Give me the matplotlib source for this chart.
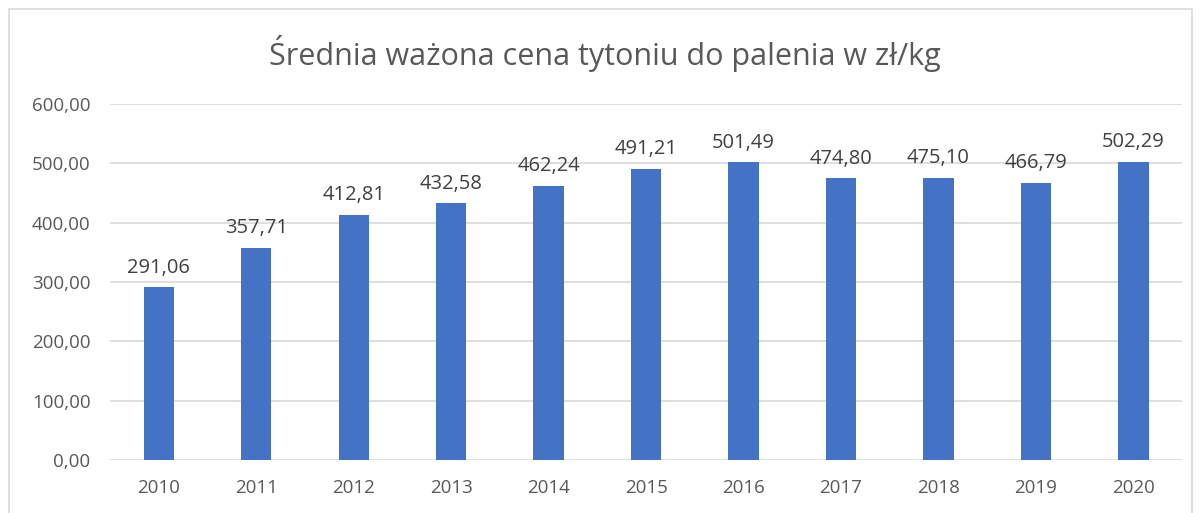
import numpy as np
import matplotlib.pyplot as plt
from matplotlib.patches import Rectangle

years = ["2010", "2011", "2012", "2013", "2014", "2015", "2016", "2017", "2018", "2019", "2020"]
prices = [291.06, 357.71, 412.81, 432.58, 462.24, 491.21, 501.49, 474.80, 475.10, 466.79, 502.29]
title = "Średnia ważona cena tytoniu do palenia w zł/kg"

plt.rcParams['font.family'] = ['Open Sans', 'DejaVu Sans']
gray = "#595959"

fig = plt.figure(figsize=(12.02, 5.13), dpi=100)
fig.patches.append(Rectangle((9 / 1202, -0.01), 1183 / 1202, 1 - 9 / 513 + 0.01,
                             transform=fig.transFigure, fill=False,
                             edgecolor="#d9d9d9", linewidth=1.2))

ax = fig.add_axes([0.0915, 0.1033, 0.892, 0.694])
x = np.arange(len(years))
ax.bar(x, prices, width=0.31, color="#4472c4", zorder=3)

for xi, v in zip(x, prices):
    ax.annotate(f"{v:.2f}".replace(".", ","), (xi, v), xytext=(0, 7),
                textcoords="offset points", ha="center", va="bottom",
                fontsize=14.5, color="#404040")

ax.set_xlim(-0.5, len(years) - 0.5)
ax.set_ylim(0, 600)
ax.set_yticks(np.arange(0, 601, 100))
ax.set_yticklabels([f"{t:.2f}".replace(".", ",") for t in np.arange(0, 601, 100)])
ax.set_xticks(x)
ax.set_xticklabels(years)
ax.grid(axis="y", color="#d9d9d9", linewidth=1.2, zorder=0)
for s in ax.spines.values():
    s.set_visible(False)
ax.tick_params(axis="both", length=0, labelsize=13.5, colors=gray)
ax.tick_params(axis="x", pad=14)
ax.tick_params(axis="y", pad=14)

fig.text(0.503, 0.895, title, ha="center", va="center", fontsize=22, color=gray)

fig.savefig("out.png", dpi=100)
